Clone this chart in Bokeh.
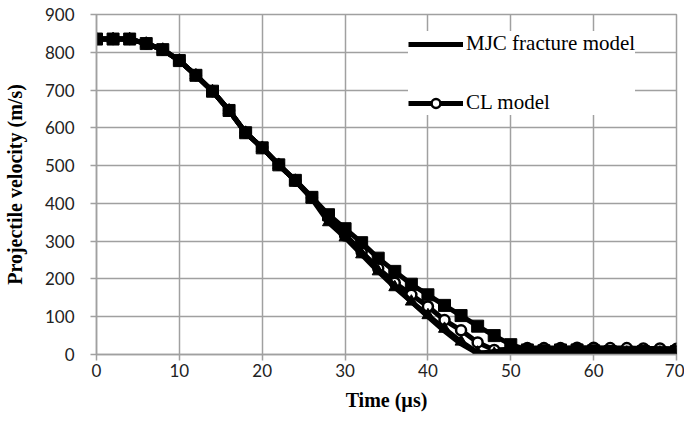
from bokeh.plotting import figure
from bokeh.models import Legend, LegendItem, FixedTicker, Range1d
from bokeh.embed import file_html
from bokeh.resources import INLINE

# ---- data ----
time_us = [0, 2, 4, 6, 8, 10, 12, 14, 16, 18, 20, 22, 24, 26, 28, 30, 32, 34,
           36, 38, 40, 42, 44, 46, 48, 50, 52, 54, 56, 58, 60, 62, 64, 66, 68, 70]

squares_v = [835, 835, 835, 823, 807, 778, 739, 697, 646, 587, 547, 502, 461, 416,
             370, 333, 296, 255, 220, 186, 158, 130, 103, 75, 50, 26,
             12, 10, 12, 12, 10, 8, 6, 8, 6, 8]

triangles_v = [835, 835, 835, 823, 807, 778, 739, 697, 646, 587, 547, 502, 460, 412,
               350, 310, 265, 220, 178, 140, 104, 68, 34, 5, 2, 2,
               6, 6, 6, 6, 5, 5, 5, 5, 5, 5]

mjc_v = [835, 835, 835, 823, 807, 778, 739, 697, 646, 587, 547, 502, 460, 414,
         362, 318, 272, 225, 182, 140, 100, 62, 28, 3, 8, 10,
         12, 12, 13, 14, 14, 14, 13, 12, 12, 11]

cl_v = [835, 835, 835, 823, 807, 778, 739, 697, 646, 587, 547, 502, 460, 415,
        362, 315, 271, 228, 190, 158, 127, 91, 64, 32, 12, 14,
        17, 17, 17, 18, 18, 17, 17, 16, 16, 15]

x_ticks = [0, 10, 20, 30, 40, 50, 60, 70]
y_ticks = [0, 100, 200, 300, 400, 500, 600, 700, 800, 900]

GRID = "#a0a0a0"

p = figure(width=684, height=438, output_backend="svg", toolbar_location=None,
           x_range=Range1d(0, 70), y_range=Range1d(0, 900),
           min_border_left=95, min_border_right=8, min_border_top=14,
           min_border_bottom=84)

p.outline_line_color = GRID
p.outline_line_width = 1.5

p.xaxis.ticker = FixedTicker(ticks=x_ticks)
p.yaxis.ticker = FixedTicker(ticks=y_ticks)
for g in (p.xgrid, p.ygrid):
    g.grid_line_color = GRID
    g.grid_line_width = 1.5

for ax in (p.xaxis, p.yaxis):
    ax.axis_line_color = GRID
    ax.axis_line_width = 1.5
    ax.major_tick_line_color = GRID
    ax.major_tick_line_width = 1.5
    ax.major_tick_in = 0
    ax.major_tick_out = 6
    ax.minor_tick_line_color = None
    ax.major_label_text_font = "Lato"
    ax.major_label_text_font_size = "17px"
    ax.major_label_text_color = "#222222"
    ax.axis_label_text_font = "Liberation Serif"
    ax.axis_label_text_font_style = "bold"
    ax.axis_label_text_font_size = "20px"
    ax.axis_label_text_color = "black"

p.xaxis.major_label_standoff = 3
p.yaxis.major_label_standoff = 16
p.xaxis.axis_label = "Time (µs)"
p.yaxis.axis_label = "Projectile velocity (m/s)"
p.xaxis.axis_label_standoff = 9
p.yaxis.axis_label_standoff = 16

LW = 5

# CL model (line + open circles)
cl_line = p.line(time_us, cl_v, line_color="black", line_width=LW)
cl_pts = p.scatter(time_us, cl_v, marker="circle", size=10, fill_color="white",
                   line_color="black", line_width=2.5)

# MJC fracture model (line)
mjc_line = p.line(time_us, mjc_v, line_color="black", line_width=LW)

# triangles series
p.line(time_us, triangles_v, line_color="black", line_width=LW)
p.scatter(time_us, triangles_v, marker="triangle", size=12, fill_color="black",
          line_color="black")

# squares series
p.line(time_us, squares_v, line_color="black", line_width=LW)
p.scatter(time_us, squares_v, marker="square", size=12, fill_color="black",
          line_color="black")

legend = Legend(items=[LegendItem(label="MJC fracture model", renderers=[mjc_line]),
                       LegendItem(label="CL model", renderers=[cl_line, cl_pts])],
                location=(312, 239), margin=0, padding=12, spacing=34,
                glyph_width=55, glyph_height=22, label_standoff=3,
                label_text_font="Liberation Serif", label_text_font_size="21px",
                label_text_color="black",
                background_fill_color="white", background_fill_alpha=1.0,
                border_line_color=None)
p.add_layout(legend)

open("out.html", "w").write(file_html(p, INLINE))
